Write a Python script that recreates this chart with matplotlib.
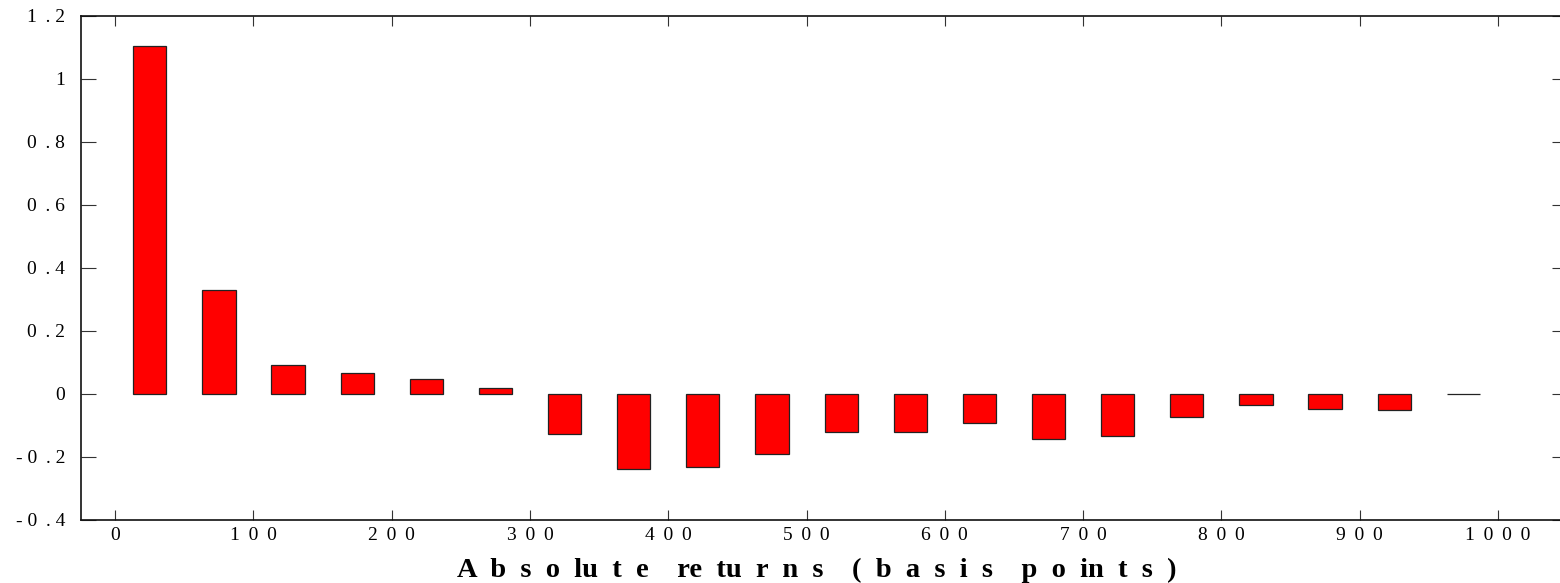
import numpy as np
import matplotlib
matplotlib.use("Agg")
import matplotlib.pyplot as plt

# bins of absolute returns (basis points), bar centres
centres = [25, 75, 125, 175, 225, 275, 325, 375, 425, 475,
           525, 575, 625, 675, 725, 775, 825, 875, 925, 975]
values = [1.105, 0.328, 0.091, 0.067, 0.046, 0.018, -0.127, -0.238, -0.234, -0.193,
          -0.123, -0.123, -0.094, -0.144, -0.135, -0.075, -0.037, -0.049, -0.053, -0.001]

yticks = [-0.4, -0.2, 0, 0.2, 0.4, 0.6, 0.8, 1.0, 1.2]
ytick_labels = ["- 0 \u2009. 4", "- 0 \u2009. 2", "0", "0 \u2009. 2", "0 \u2009. 4",
                "0 \u2009. 6", "0 \u2009. 8", "1", "1 \u2009. 2"]
xticks = [0, 100, 200, 300, 400, 500, 600, 700, 800, 900, 1000]
xtick_labels = [" \u2009".join(str(t)) for t in xticks]

# the label is set with wide letter spacing, as in the original
label_words = [["A", "b", "s", "o", "lu", "t", "e"],
               ["re", "tu", "r", "n", "s"],
               ["(", "b", "a", "s", "i", "s"],
               ["p", "o", "in", "t", "s", ")"]]
xlabel = "    ".join("  ".join(w) for w in label_words)

plt.rcParams['font.family'] = ['Liberation Serif', 'DejaVu Serif']

fig = plt.figure(figsize=(15.6, 5.83), dpi=100)
ax = fig.add_axes([0.0517, 0.1086, 0.9528, 0.8645])

ax.bar(centres, values, width=24, color='#ff0000', edgecolor='#222222', linewidth=0.9)

ax.set_xlim(-25, 1050)
ax.set_ylim(-0.4, 1.2)
ax.set_xticks(xticks)
ax.set_xticklabels(xtick_labels, fontsize=14)
ax.set_yticks(yticks)
ax.set_yticklabels(ytick_labels, fontsize=14)

for s in ax.spines.values():
    s.set_linewidth(1.2)
    s.set_color('#111111')

ax.tick_params(axis='y', direction='in', left=True, right=True, length=11,
               width=0.8, color='#333333', pad=11)
ax.tick_params(axis='x', direction='in', bottom=True, top=True, length=7.5,
               width=0.8, color='#333333', pad=5)

fig.text(0.5235, 0.0108, xlabel, ha='center', va='baseline',
         fontsize=20.5, fontweight='bold')

fig.savefig("out.png", dpi=100)
